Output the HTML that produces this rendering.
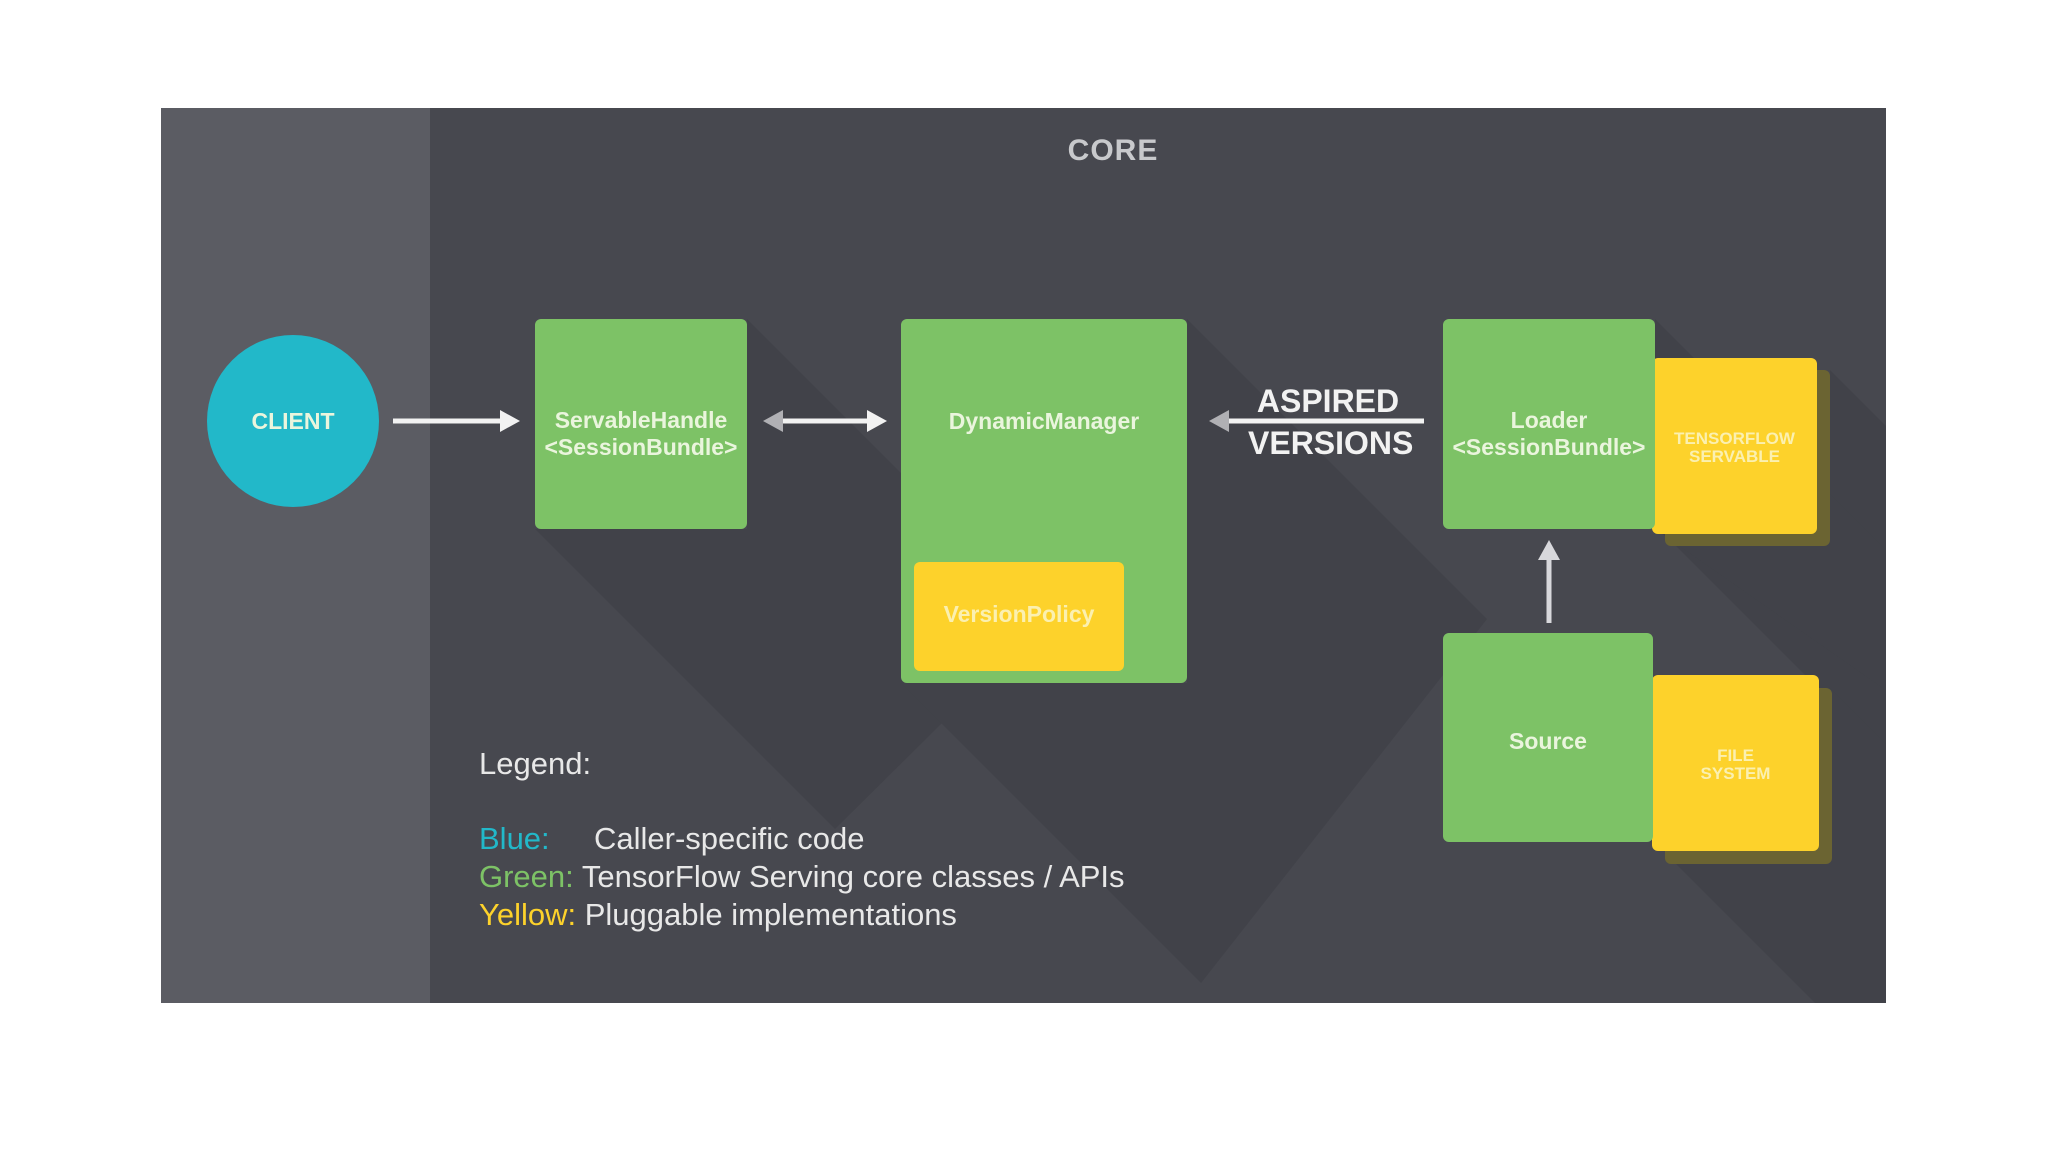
<!DOCTYPE html>
<html style="width:2048px;height:1152px;overflow:hidden"><head><meta charset="utf-8"><style>
body{margin:0;width:2048px;height:1152px;background:#fff;position:relative;overflow:hidden;font-family:"Liberation Sans",sans-serif}
.a{position:absolute}
.g{background:#7dc266;border-radius:6px}
.y{background:#fdd22b;border-radius:6px}
.t{position:absolute;color:#eaf5dd;font-weight:bold;text-align:center;font-size:23px;line-height:27px}
.leg{position:absolute;font-size:31px;color:#e8e8e8}
</style></head><body>
<svg class="a" style="left:0;top:0" width="2048" height="1152">
<defs><clipPath id="c"><rect x="161" y="108" width="1725" height="895"/></clipPath></defs>
<rect x="161" y="108" width="1725" height="895" fill="#47484f"/>
<g clip-path="url(#c)" fill="#414249">
<polygon points="747,319 1047,619 835,829 535,529 747,529"/>
<polygon points="1187,319 1487,619 1201,983 901,683 1187,683"/>
<polygon points="1830,370 2130,670 1965,835 1665,535 1830,535"/>
<polygon points="1830,688 2130,988 1965,1153 1665,853 1830,853"/>
<polygon points="1655,319 1900,564 1900,700 1655,529"/>
</g>
<rect x="161" y="108" width="269" height="895" fill="#5b5c63"/>
<g stroke="#f2f2f2" stroke-width="5" fill="#f2f2f2">
<line x1="393" y1="421" x2="505" y2="421"/><polygon points="520,421 500,410 500,432" stroke="none"/>
<line x1="778" y1="421" x2="872" y2="421"/><polygon points="887,421 867,410 867,432" stroke="none"/>
<polygon points="763,421 783,410 783,432" stroke="none" fill="#b0b0b4"/>
<line x1="1224" y1="421" x2="1424" y2="421"/><polygon points="1209,421 1229,410 1229,432" stroke="none" fill="#b0b0b4"/>
<line x1="1549" y1="623" x2="1549" y2="555" stroke="#d8d8dc"/><polygon points="1549,540 1538,560 1560,560" stroke="none" fill="#d8d8dc"/>
</g>
</svg>
<div class="a" style="left:1113px;top:134px;transform:translateX(-50%);color:#c8c9cc;font-size:30px;font-weight:bold;letter-spacing:1px">CORE</div>
<div class="a" style="left:207px;top:335px;width:172px;height:172px;border-radius:50%;background:#22b8c9"></div>
<div class="t" style="left:207px;top:408px;width:172px">CLIENT</div>
<div class="a g" style="left:535px;top:319px;width:212px;height:210px"></div>
<div class="t" style="left:530px;top:407px;width:222px">ServableHandle<br>&lt;SessionBundle&gt;</div>
<div class="a g" style="left:901px;top:319px;width:286px;height:364px"></div>
<div class="t" style="left:901px;top:408px;width:286px">DynamicManager</div>
<div class="a y" style="left:914px;top:562px;width:210px;height:109px"></div>
<div class="t" style="left:914px;top:601px;width:210px;color:#fbf0b0">VersionPolicy</div>
<div class="a" style="left:1248px;top:380px;width:160px;text-align:center;color:#f2f2f2;font-size:32px;font-weight:bold;line-height:42px">ASPIRED<br>VERSIONS</div>
<div class="a" style="left:1665px;top:370px;width:165px;height:176px;background:#6b6432;border-radius:6px"></div>
<div class="a y" style="left:1652px;top:358px;width:165px;height:176px"></div>
<div class="t" style="left:1652px;top:430px;width:165px;font-size:17px;line-height:18px;color:#fbf0b0">TENSORFLOW<br>SERVABLE</div>
<div class="a g" style="left:1443px;top:319px;width:212px;height:210px"></div>
<div class="t" style="left:1438px;top:407px;width:222px">Loader<br>&lt;SessionBundle&gt;</div>
<div class="a" style="left:1665px;top:688px;width:167px;height:176px;background:#6b6432;border-radius:6px"></div>
<div class="a y" style="left:1652px;top:675px;width:167px;height:176px"></div>
<div class="t" style="left:1652px;top:747px;width:167px;font-size:17px;line-height:18px;color:#fbf0b0">FILE<br>SYSTEM</div>
<div class="a g" style="left:1443px;top:633px;width:210px;height:209px"></div>
<div class="t" style="left:1443px;top:728px;width:210px">Source</div>
<div class="leg" style="left:479px;top:746px">Legend:</div>
<div class="leg" style="left:479px;top:821px"><span style="color:#22b8c9">Blue:</span></div>
<div class="leg" style="left:594px;top:821px">Caller-specific code</div>
<div class="leg" style="left:479px;top:859px"><span style="color:#7dc266">Green:</span> TensorFlow Serving core classes / APIs</div>
<div class="leg" style="left:479px;top:897px"><span style="color:#fdd22b">Yellow:</span> Pluggable implementations</div>
</body></html>
